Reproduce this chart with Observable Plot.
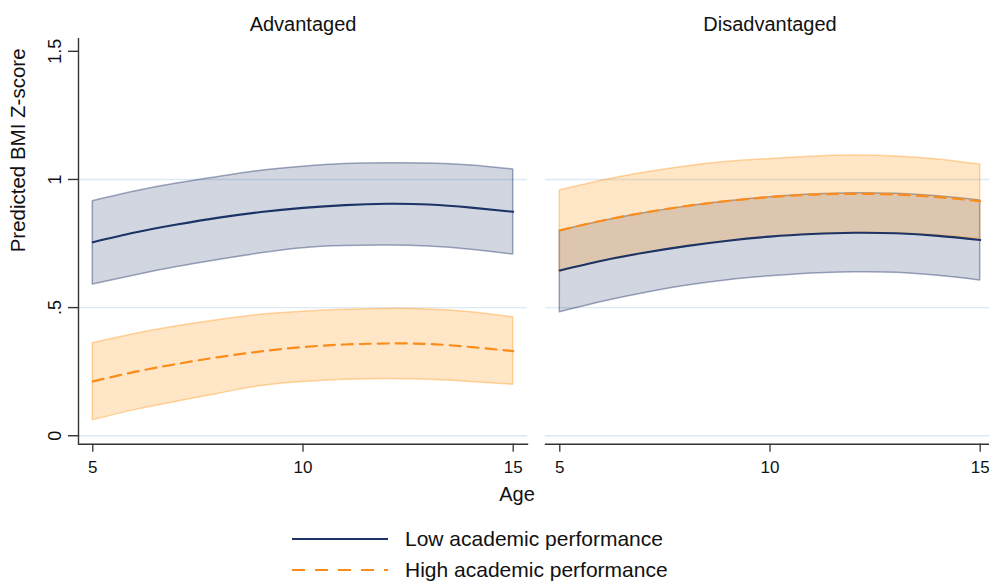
<!DOCTYPE html>
<html>
<head>
<meta charset="utf-8">
<script src="https://cdn.jsdelivr.net/npm/d3@7"></script>
<script src="https://cdn.jsdelivr.net/npm/@observablehq/plot@0.6"></script>
<style>
  html, body { margin: 0; padding: 0; background: #fff; }
  #wrap { position: relative; width: 989px; height: 584px; overflow: hidden; font-family: "Liberation Sans", Arial, sans-serif; color: #111; }
  #chart { position: absolute; left: 0; top: 0; }
  #agelab { position: absolute; left: 0; width: 1034px; top: 483px; text-align: center; font-size: 20px; }
  .leg { position: absolute; left: 292px; font-size: 21px; display: flex; align-items: center; white-space: nowrap; }
  .leg svg { margin-right: 17px; }
</style>
</head>
<body>
<div id="wrap">
  <div id="chart"></div>
  <div id="agelab">Age</div>
  <div class="leg" style="top:527px"><svg width="96" height="6"><line x1="0" x2="96" y1="3" y2="3" stroke="#1c3366" stroke-width="2.2"/></svg><span>Low academic performance</span></div>
  <div class="leg" style="top:558px"><svg width="96" height="6"><line x1="0" x2="96" y1="3" y2="3" stroke="#fb8c1a" stroke-width="2.2" stroke-dasharray="13,10"/></svg><span>High academic performance</span></div>
</div>
<script>
// ---- Data ----
const panels = ["Advantaged", "Disadvantaged"];
const seriesNames = ["Low academic performance", "High academic performance"];
const ages = [5, 6, 7, 8, 9, 10, 11, 12, 13, 14, 15];

// Advantaged – low academic performance
const advLowEst = [0.755, 0.793, 0.824, 0.851, 0.873, 0.889, 0.900, 0.905, 0.902, 0.890, 0.874];
const advLowLo  = [0.590, 0.625, 0.658, 0.686, 0.712, 0.732, 0.740, 0.742, 0.738, 0.726, 0.707];
const advLowHi  = [0.915, 0.953, 0.984, 1.010, 1.034, 1.050, 1.060, 1.063, 1.062, 1.054, 1.039];
// Advantaged – high academic performance
const advHighEst = [0.212, 0.249, 0.280, 0.307, 0.329, 0.346, 0.356, 0.360, 0.358, 0.346, 0.330];
const advHighLo  = [0.060, 0.100, 0.133, 0.164, 0.194, 0.210, 0.218, 0.221, 0.218, 0.210, 0.199];
const advHighHi  = [0.361, 0.397, 0.427, 0.452, 0.472, 0.484, 0.492, 0.495, 0.493, 0.482, 0.462];
// Disadvantaged – low academic performance
const disLowEst = [0.645, 0.683, 0.714, 0.740, 0.761, 0.777, 0.787, 0.792, 0.790, 0.780, 0.764];
const disLowLo  = [0.482, 0.522, 0.556, 0.585, 0.607, 0.622, 0.633, 0.638, 0.636, 0.624, 0.606];
const disLowHi  = [0.800, 0.837, 0.868, 0.894, 0.915, 0.931, 0.941, 0.946, 0.944, 0.934, 0.918];
// Disadvantaged – high academic performance
const disHighEst = [0.801, 0.839, 0.870, 0.896, 0.916, 0.931, 0.941, 0.944, 0.941, 0.931, 0.915];
const disHighLo  = [0.640, 0.679, 0.711, 0.738, 0.759, 0.775, 0.786, 0.791, 0.789, 0.781, 0.768];
const disHighHi  = [0.957, 0.995, 1.026, 1.051, 1.069, 1.080, 1.089, 1.093, 1.090, 1.078, 1.058];

const yTicks = [0, 0.5, 1, 1.5];
const yTickLabels = ["0", ".5", "1", "1.5"];
const xTicks = [5, 10, 15];
const yTitle = "Predicted BMI Z-score";

// ---- Build table ----
const sets = [
  [panels[0], seriesNames[0], advLowEst, advLowLo, advLowHi],
  [panels[0], seriesNames[1], advHighEst, advHighLo, advHighHi],
  [panels[1], seriesNames[0], disLowEst, disLowLo, disLowHi],
  [panels[1], seriesNames[1], disHighEst, disHighLo, disHighHi]
];
const rows = [];
for (const [panel, series, est, lo, hi] of sets) {
  ages.forEach((age, i) => rows.push({panel, series, age, est: est[i], lo: lo[i], hi: hi[i]}));
}
const lowRows = rows.filter(d => d.series === seriesNames[0]);
const highRows = rows.filter(d => d.series === seriesNames[1]);

const navy = "#1c3366";
const orange = "#fb8c1a";

const chart = Plot.plot({
  width: 989,
  height: 482,
  marginTop: 38,
  marginBottom: 38.3,
  marginLeft: 78,
  marginRight: -5,
  style: {fontFamily: '"Liberation Sans", Arial, sans-serif', color: "#111", background: "#fff"},
  fx: {domain: panels, paddingInner: 0.0393, paddingOuter: 0, label: null},
  x: {domain: [4.66, 15.34]},
  y: {domain: [-0.033, 1.55]},
  marks: [
    Plot.gridY([0, 0.5, 1], {stroke: "#dde9f3", strokeOpacity: 1, strokeWidth: 1.4}),
    Plot.areaY(lowRows, {x: "age", y1: "lo", y2: "hi", fx: "panel", curve: "natural",
      fill: navy, fillOpacity: 0.2, stroke: navy, strokeOpacity: 0.42, strokeWidth: 1.5}),
    Plot.areaY(highRows, {x: "age", y1: "lo", y2: "hi", fx: "panel", curve: "natural",
      fill: "#ff8c00", fillOpacity: 0.22, stroke: "#ff8c00", strokeOpacity: 0.35, strokeWidth: 1.5}),
    Plot.lineY(lowRows, {x: "age", y: "est", fx: "panel", curve: "natural", stroke: navy, strokeWidth: 2.1}),
    Plot.lineY(highRows, {x: "age", y: "est", fx: "panel", curve: "natural", stroke: orange, strokeWidth: 2.2, strokeDasharray: "11,7"}),
    Plot.frame({anchor: "bottom", stroke: "#333", strokeWidth: 1.4}),
    Plot.ruleX([{panel: panels[0]}], {fx: "panel", x: 4.66, stroke: "#333", strokeWidth: 1.4}),
    Plot.axisX({ticks: xTicks, tickSize: 8, tickPadding: 9, fontSize: 17, label: null, stroke: "#333", strokeWidth: 1.3}),
    Plot.axisY({ticks: yTicks, tickFormat: (d) => yTickLabels[yTicks.indexOf(d)], tickSize: 10, tickPadding: 8,
      tickRotate: -90, fontSize: 18, label: null, stroke: "#333", strokeWidth: 1.4, strokeOpacity: 1}),
    Plot.axisFx({anchor: "top", label: null, tickSize: 0, tickPadding: 8, fontSize: 20}),
    Plot.text([{panel: panels[0], t: yTitle}], {fx: "panel", text: "t", frameAnchor: "left", rotate: -90,
      dx: -60, dy: 11, fontSize: 20.5, fill: "#111"})
  ]
});
document.getElementById("chart").append(chart);
</script>
</body>
</html>
